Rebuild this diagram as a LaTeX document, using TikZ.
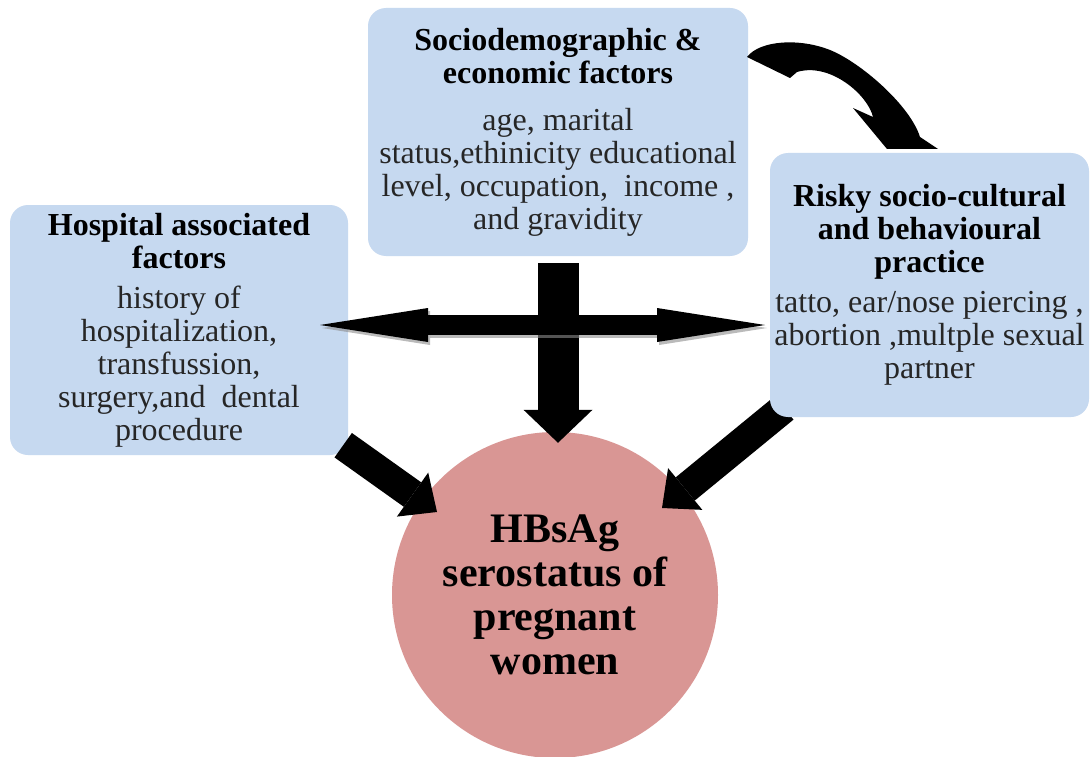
\documentclass[tikz,border=0pt]{standalone}
\usepackage{fontspec}
\setmainfont{Liberation Serif}
\usetikzlibrary{arrows.meta}
\definecolor{boxblue}{RGB}{198,217,240}
\definecolor{circred}{RGB}{217,150,148}
\definecolor{bodytext}{RGB}{38,38,38}
\begin{document}
\begin{tikzpicture}[x=1pt,y=-1pt,
  box/.style={fill=boxblue, rounded corners=18pt, inner sep=0pt, align=center,
    font=\fontsize{32}{33}\selectfont, text=bodytext},
  hub/.style={circle, fill=circred, minimum size=326pt, inner sep=0pt, align=center,
    font=\fontsize{42}{44}\selectfont\bfseries, text=black},
  fat/.style={line width=30pt, -{Triangle[width=54pt,length=30pt,line width=0pt]}},
  vfat/.style={line width=41pt, -{Triangle[width=69pt,length=33pt,line width=0pt]}},
  dbl/.style={line width=20pt, {Triangle[width=34pt,length=108pt,line width=0pt]}-{Triangle[width=34pt,length=108pt,line width=0pt]}},
]
\useasboundingbox[fill=white] (0,0) rectangle (1090,757);

% central circle
\node[hub] (circ) at (555,595) {HBsAg\\serostatus of\\pregnant\\women};

% left box
\node[box, minimum width=338pt, minimum height=250pt] (left) at (179,330)
  {\textcolor{black}{\bfseries Hospital associated}\\
   \textcolor{black}{\bfseries factors}\\[7pt]
   history of\\hospitalization,\\transfussion,\\surgery,and\ \ dental\\procedure};

% top box
\node[box, minimum width=380pt, minimum height=248pt] (top) at (558,132)
  {\textcolor{black}{\bfseries Sociodemographic \&}\\
   \textcolor{black}{\bfseries economic factors}\\[14pt]
   age, marital\\status,ethinicity educational\\level, occupation,\ \ income ,\\and gravidity};

% right diagonal arrow (tail tucked under the right box)
\coordinate (rt) at (784,408);
\draw[fat] (rt) -- ([shift={(107,-87)}]circ.center);

% right box
\node[box, minimum width=319pt, minimum height=264pt] (right) at (929.5,285)
  {\textcolor{black}{\bfseries Risky socio-cultural}\\
   \textcolor{black}{\bfseries and behavioural}\\
   \textcolor{black}{\bfseries practice}\\[7pt]
   tatto, ear/nose piercing ,\\abortion ,multple sexual\\partner};

% vertical arrow
\draw[vfat] ([yshift=-7pt]top.south) -- ([yshift=-11pt]circ.north -| top.south);

% left diagonal arrow
\draw[fat] ([shift={(-5,-10)}]left.south east) -- ([shift={(-118,-83)}]circ.center);

% double horizontal arrow with shadow
\coordinate (hl) at (320,325);
\coordinate (hr) at (765,325);
\draw[dbl, draw=black!45, fill=black!45, opacity=0.6] ([shift={(2,3)}]hl) -- ([shift={(2,3)}]hr);
\draw[dbl] (hl) -- (hr);

% curved arrow from top box to right box
\fill (747,57) .. controls (760,40) and (800,38) .. (830,50)
  .. controls (860,62) and (910,105) .. (920,137)
  -- (938,149) -- (887,149) -- (853,108) -- (873,117)
  .. controls (868,95) and (830,62) .. (797,72) -- (790,78) -- cycle;
\end{tikzpicture}
\end{document}
